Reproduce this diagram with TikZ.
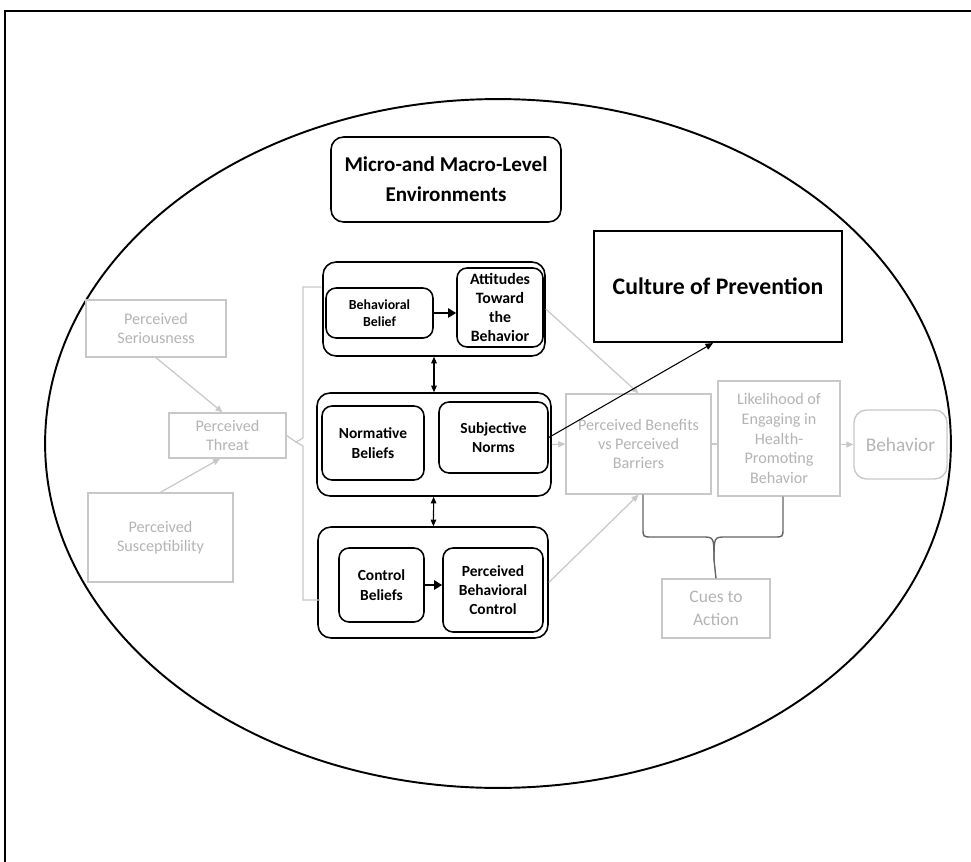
\documentclass[tikz,border=0pt]{standalone}
\usepackage{fontspec}
\setmainfont{Carlito}
\usetikzlibrary{arrows.meta,positioning,calc}
\definecolor{fadegray}{RGB}{180,180,180}
\definecolor{fadeline}{RGB}{200,200,200}
\definecolor{bracegray}{RGB}{100,100,100}

\begin{document}
\begin{tikzpicture}[x=0.02cm, y=-0.02cm,
    grp/.style={draw, fill=white, rounded corners=0.26cm, line width=0.9pt},
    bbox/.style={draw, fill=white, rounded corners=0.2cm, line width=0.9pt, align=center, inner sep=1pt, font=\bfseries\fontsize{8.8}{11}\selectfont},
    fbox/.style={draw=fadeline, fill=white, line width=0.8pt, text=fadegray, align=center, inner sep=1pt, font=\fontsize{9.2}{11}\selectfont},
    arr/.style={-{Triangle[length=1.6mm,width=1.8mm]}, line width=1.6pt},
    dbl/.style={{Triangle[length=1.3mm,width=1.1mm]}-{Triangle[length=1.3mm,width=1.1mm]}, line width=0.6pt},
    garr/.style={-{Triangle[length=1.4mm,width=1.2mm]}, draw=fadeline, line width=0.7pt},
    gline/.style={draw=fadeline, line width=0.7pt}
]
\useasboundingbox (0,0) rectangle (971,862);
\clip (0,0) rectangle (971,862);

% frame and ellipse
\draw[line width=1pt] (5,11) rectangle (990,880);
\draw[line width=1.1pt] (498,443.5) ellipse [x radius=9.06cm, y radius=6.89cm];

% top boxes
\node[draw, fill=white, rounded corners=0.25cm, line width=0.9pt, minimum width=4.6cm, minimum height=1.7cm, align=center, font=\bfseries\fontsize{12}{17}\selectfont] (env) at (446,179.5) {Micro-and Macro-Level\\Environments};
\node[draw, fill=white, line width=1.2pt, minimum width=4.96cm, minimum height=2.22cm, font=\bfseries\fontsize{13.5}{16}\selectfont] (culture) at (718,286.5) {Culture of Prevention};

% attitude group
\node[grp, minimum width=4.44cm, minimum height=1.88cm] (attgrp) at (434,309) {};
\node[bbox, minimum width=2.14cm, minimum height=1cm, font=\bfseries\fontsize{7.9}{9.5}\selectfont] (belief) at (379.5,313) {Behavioral\\Belief};
\node[bbox, minimum width=1.72cm, minimum height=1.58cm, font=\bfseries\fontsize{9}{11}\selectfont] (attitude) at (500,307.5) {Attitudes\\Toward\\the\\Behavior};

% norm group
\node[grp, minimum width=4.68cm, minimum height=2.06cm] (normgrp) at (434,444.5) {};
\node[bbox, minimum width=2.04cm, minimum height=1.48cm] (normative) at (373,443) {Normative\\Beliefs};
\node[bbox, minimum width=2.18cm, minimum height=1.42cm] (subjective) at (493.5,437.5) {Subjective\\Norms};

% control group
\node[grp, minimum width=4.6cm, minimum height=2.22cm] (ctrlgrp) at (433,582.5) {};
\node[bbox, minimum width=1.7cm, minimum height=1.48cm] (control) at (381.5,585) {Control\\Beliefs};
\node[bbox, minimum width=2cm, minimum height=1.68cm] (pbc) at (493,590) {Perceived\\Behavioral\\Control};

% health belief model (faded)
\node[fbox, minimum width=2.8cm, minimum height=1.14cm] (serious) at (156,328.5) {Perceived\\Seriousness};
\node[fbox, minimum width=2.34cm, minimum height=0.9cm] (threat) at (227.5,435.5) {Perceived\\Threat};
\node[fbox, minimum width=2.9cm, minimum height=1.78cm] (suscept) at (160.5,537.5) {Perceived\\Susceptibility};
\node[fbox, minimum width=2.9cm, minimum height=2cm] (benefits) at (638.5,444) {Perceived Benefits\\vs Perceived\\Barriers};
\node[fbox, minimum width=2.44cm, minimum height=2.3cm, font=\fontsize{9.2}{11.3}\selectfont] (likely) at (779,438.5) {Likelihood of\\Engaging in\\Health-\\Promoting\\Behavior};
\node[fbox, fill=none, rounded corners=0.25cm, minimum width=1.86cm, minimum height=1.38cm, font=\fontsize{11}{13}\selectfont] (behavior) at (900.5,444.5) {Behavior};
\node[fbox, minimum width=2.16cm, minimum height=1.18cm, font=\fontsize{10}{13}\selectfont] (cues) at (716,608.5) {Cues to\\Action};

% arrows inside groups
\draw[arr] (belief.east) -- (belief.east -| attitude.west);
\draw[arr] (control.east) -- (control.east -| pbc.west);
\draw[dbl] (attgrp) -- (normgrp);
\draw[dbl] (normgrp) -- (ctrlgrp);

% faded connectors
\draw[garr] (serious.south) -- ([xshift=-0.1cm]threat.north);
\draw[garr] (suscept.north) -- ([xshift=-0.15cm]threat.south);
\draw[garr] (attgrp.east) -- (benefits.north);
\draw[garr] (normgrp.east) -- (benefits.west);
\draw[garr] (ctrlgrp.east) -- (benefits.south);
\draw[gline] (benefits.east) -- (benefits.east -| likely.west);
\draw[garr] (likely.east |- behavior.west) -- (behavior.west);

% bracket from threat
\coordinate (brtop) at (321,287);
\coordinate (brbot) at (320,600);
\coordinate (brtip) at (296,442);
\draw[gline] (brtop) -- (303,287) -- (303,438) -- (brtip) -- (303,446) -- (303,600) -- (brbot);
\draw[gline] (threat.east) -- (brtip);

% brace to cues
\coordinate (bracejoin) at (714,560);
\draw[bracegray, line width=0.8pt] ($(benefits.south)+(4.5,0)$) -- (643,528) .. controls (643,537) .. (652,537) -- (702,537) .. controls (714,537) .. (bracejoin);
\draw[bracegray, line width=0.8pt] ($(likely.south)+(4,0)$) -- (783,528) .. controls (783,537) .. (774,537) -- (726,537) .. controls (714,537) .. (bracejoin);
\draw[bracegray, line width=0.8pt] (bracejoin) -- (cues.north);

% culture link
\draw[-{Triangle[length=1.5mm,width=1.3mm]}, line width=0.6pt] (subjective.east) -- ([xshift=-0.1cm]culture.south);
\end{tikzpicture}
\end{document}
